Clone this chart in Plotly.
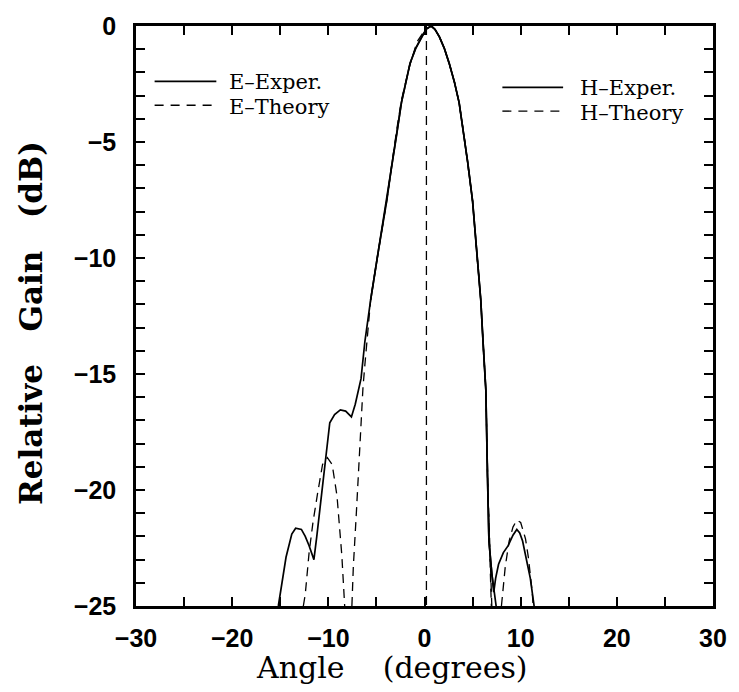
import plotly.graph_objects as go

# ---- data ----
e_exp_x = [-15.2, -14.4, -13.8, -13.4, -12.8, -12.4, -12.0, -11.5, -11.2, -10.8, -10.4, -10.05, -9.85,
           -9.35, -8.75, -8.2, -7.6, -7.2, -6.6, -6.2, -5.6, -4.8, -3.93, -3.4, -2.9, -2.4, -1.5, -0.9, -0.3,
           0.2, 0.7, 1.1, 1.55, 2.05, 2.56, 3.1, 3.6, 4.1, 4.5, 5.0, 5.4, 5.85, 6.1, 6.38, 6.55, 6.7,
           7.0, 7.25, 7.45]
e_exp_y = [-25.0, -22.9, -21.9, -21.65, -21.7, -22.0, -22.4, -23.0, -22.0, -20.5, -19.0, -17.6, -17.1,
           -16.75, -16.55, -16.6, -16.85, -16.3, -15.2, -13.6, -11.8, -9.7, -7.55, -6.0, -4.7, -3.3, -1.6, -0.95, -0.47,
           -0.12, 0.0, -0.15, -0.47, -0.95, -1.6, -2.4, -3.3, -4.7, -5.9, -7.55, -9.6, -11.8, -13.7, -15.7, -19.4, -22.2,
           -23.6, -24.5, -25.0]

e_th_x = [-12.6, -12.4, -12.0, -11.6, -11.1, -10.6, -10.1, -9.6, -9.1, -8.6, -8.3, None,
          -7.55, -7.4, -7.1, -6.8, -6.4, -6.2, -5.6, -4.8, -3.93, -2.9, -2.4, -1.6, -0.8, 0.0, 0.7,
          1.1, 1.55, 2.05, 2.56, 3.1, 3.6, 4.1, 4.5, 5.0, 5.4, 5.85, 6.1, 6.38, 6.6, 6.85, 7.0]
e_th_y = [-25.0, -24.5, -22.7, -21.4, -20.1, -18.9, -18.6, -18.9, -20.25, -22.8, -25.0, None,
          -25.0, -23.3, -21.1, -18.7, -15.6, -14.6, -11.8, -9.7, -7.55, -4.5, -3.2, -1.8, -0.7, -0.2, 0.0,
          -0.15, -0.47, -0.95, -1.6, -2.4, -3.3, -4.7, -5.9, -7.55, -9.6, -11.8, -13.7, -15.7, -20.0, -23.0, -25.0]

h_exp_x = [-5.6, -4.8, -3.93, -3.4, -2.9, -2.4, -1.5, -0.9, -0.3, 0.2, 0.7, 1.1, 1.55, 2.05, 2.56, 3.1,
           3.6, 4.1, 4.5, 5.0, 5.4, 5.85, 6.1, 6.38, 6.55, 6.7, 7.0,
           7.2, 7.4, 7.7, 8.2, 8.7, 9.2, 9.6, 9.9, 10.2, 10.7, 11.0, 11.4]
h_exp_y = [-11.8, -9.7, -7.55, -6.0, -4.7, -3.3, -1.6, -0.95, -0.47, -0.12, 0.0, -0.15, -0.47, -0.95, -1.6, -2.4,
           -3.3, -4.7, -5.9, -7.55, -9.6, -11.8, -13.7, -15.7, -19.4, -22.2, -23.6,
           -24.4, -23.8, -23.2, -22.7, -22.4, -21.95, -21.7, -21.85, -22.2, -23.2, -23.8, -25.0]

h_th_x = [0.7, 1.1, 1.55, 2.05, 2.56, 3.1, 3.6, 4.1, 4.5, 5.0, 5.4, 5.85, 6.1, 6.38, 6.55, 6.75, 6.95, None,
          8.0, 8.1, 8.4, 8.8, 9.2, 9.6, 10.0, 10.5, 10.8, 11.2, 11.3]
h_th_y = [0.0, -0.15, -0.47, -0.95, -1.6, -2.4, -3.3, -4.7, -5.9, -7.55, -9.6, -11.8, -13.7, -15.7, -19.4, -22.5, -25.0, None,
          -25.0, -24.5, -23.3, -22.2, -21.6, -21.3, -21.4, -22.1, -22.9, -24.4, -25.0]

center_x = [0.2, 0.2]
center_y = [0.0, -25.0]

x_ticks = [-30, -20, -10, 0, 10, 20, 30]
y_ticks = [0, -5, -10, -15, -20, -25]

legend_left = ["E\u2013Exper.", "E\u2013Theory"]
legend_right = ["H\u2013Exper.", "H\u2013Theory"]


def fmt(v):
    return str(v).replace("-", "\u2212")


DASH = "9px,6px"
fig = go.Figure()
fig.add_trace(go.Scatter(x=e_exp_x, y=e_exp_y, mode="lines", name=legend_left[0], showlegend=False,
                         line=dict(color="black", width=1.7)))
fig.add_trace(go.Scatter(x=e_th_x, y=e_th_y, mode="lines", name=legend_left[1], showlegend=False,
                         line=dict(color="black", width=1.3, dash=DASH), connectgaps=False))
fig.add_trace(go.Scatter(x=h_exp_x, y=h_exp_y, mode="lines", name=legend_right[0], showlegend=False,
                         line=dict(color="black", width=1.7)))
fig.add_trace(go.Scatter(x=h_th_x, y=h_th_y, mode="lines", name=legend_right[1], showlegend=False,
                         line=dict(color="black", width=1.3, dash=DASH), connectgaps=False))
fig.add_trace(go.Scatter(x=center_x, y=center_y, mode="lines", showlegend=False,
                         line=dict(color="black", width=1.3, dash=DASH)))

tickfont = dict(family="Liberation Sans", size=25, color="black", weight="bold")
fig.update_layout(
    width=739, height=692,
    margin=dict(l=136, r=14, t=20, b=86),
    paper_bgcolor="white", plot_bgcolor="white",
    showlegend=False,
    xaxis=dict(range=[-30, 30], tickvals=x_ticks, ticktext=[fmt(v) for v in x_ticks],
               showgrid=False, zeroline=False, showline=True, linecolor="black", linewidth=2.5,
               mirror="ticks", ticks="inside", ticklen=9, tickwidth=1.5, tickcolor="black",
               minor=dict(dtick=5, tick0=0, ticks="inside", ticklen=9, tickwidth=1.5, tickcolor="black"),
               tickfont=tickfont, ticklabelstandoff=8),
    yaxis=dict(range=[-25, 0], tickvals=y_ticks, ticktext=[fmt(v) for v in y_ticks],
               showgrid=False, zeroline=False, showline=True, linecolor="black", linewidth=2.5,
               mirror="ticks", ticks="inside", ticklen=9, tickwidth=1.5, tickcolor="black",
               minor=dict(dtick=1, tick0=0, ticks="inside", ticklen=9, tickwidth=1.5, tickcolor="black"),
               tickfont=tickfont, ticklabelstandoff=12),
)

# legend drawn as layout decorations (paper coordinates)
def px2paper(px, py):
    return (px - 136) / 589.0, 1 - (py - 20) / 586.0

legend_rows = [
    (155, 218, 76, 230, 77, legend_left[0], "solid"),
    (155, 218, 100, 230, 102, legend_left[1], "9px,7px"),
    (510, 572, 82, 588, 83, legend_right[0], "solid"),
    (510, 572, 106, 588, 108, legend_right[1], "9px,7px"),
]
for x0, x1, ly, tx, ty, label, dash in legend_rows:
    a0, b0 = px2paper(x0, ly)
    a1, _ = px2paper(x1, ly)
    fig.add_shape(type="line", xref="paper", yref="paper", x0=a0, x1=a1, y0=b0, y1=b0,
                  line=dict(color="black", width=1.7 if dash == "solid" else 1.4, dash=dash))
    ta, tb = px2paper(tx, ty)
    fig.add_annotation(text=label, xref="paper", yref="paper", x=ta, y=tb, xanchor="left",
                       yanchor="middle", showarrow=False, borderpad=0,
                       font=dict(family="DejaVu Serif", size=21, color="black"))

ya, yb = px2paper(29, 320)
fig.add_annotation(text="Relative\u00a0\u00a0\u00a0Gain\u00a0\u00a0\u00a0(dB)", xref="paper", yref="paper",
                   x=ya, y=yb, xanchor="center", yanchor="middle", textangle=-90, showarrow=False,
                   font=dict(family="DejaVu Serif", size=31, color="black", weight="bold"))
xa, xb = px2paper(397, 668)
fig.add_annotation(text="Angle\u00a0\u00a0\u00a0\u00a0(degrees)", xref="paper", yref="paper",
                   x=xa, y=xb, xanchor="center", yanchor="middle", showarrow=False,
                   font=dict(family="DejaVu Serif", size=30, color="black"))

fig.write_html("out.html")
